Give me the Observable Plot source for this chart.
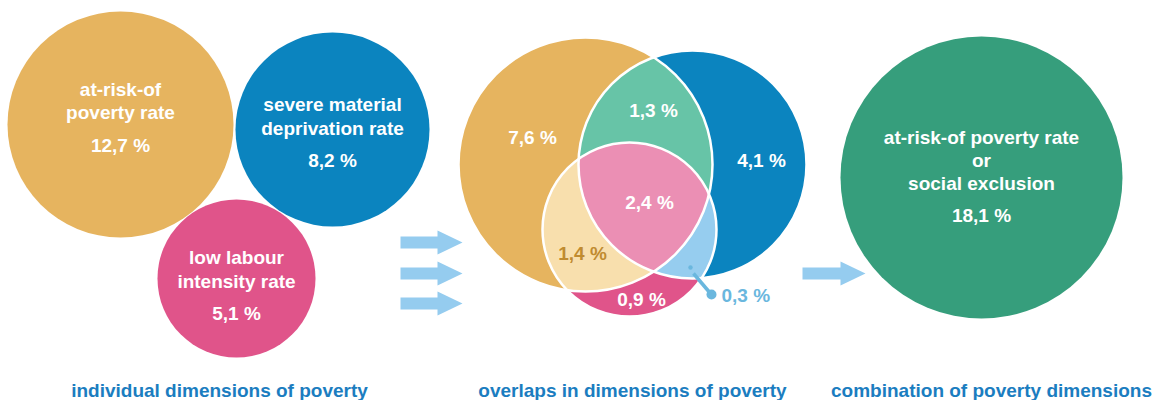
<!DOCTYPE html>
<html>
<head>
<meta charset="utf-8">
<script src="https://cdn.jsdelivr.net/npm/d3@7"></script>
<script src="https://cdn.jsdelivr.net/npm/@observablehq/plot@0.6"></script>
<style>
  html, body { margin: 0; padding: 0; background: #fff; }
</style>
</head>
<body>
<div id="chart"></div>
<script>
// ---------- data ----------
const dimensionNames = ["at-risk-of\npoverty rate", "severe material\ndeprivation rate", "low labour\nintensity rate"];
const dimensionRates = [12.7, 8.2, 5.1];
const overlapRegions = ["AROP only", "AROP & SMD", "SMD only", "all three", "AROP & LWI", "LWI only", "SMD & LWI"];
const overlapRates = [7.6, 1.3, 4.1, 2.4, 1.4, 0.9, 0.3];
const combinedName = "at-risk-of poverty rate\nor\nsocial exclusion";
const combinedRate = 18.1;
const panelTitles = ["individual dimensions of poverty", "overlaps in dimensions of poverty", "combination of poverty dimensions"];

// ---------- layout (chart coordinates) ----------
const leftCircles = [{cx: 120, cy: 124, r: 113}, {cx: 332, cy: 129, r: 97}, {cx: 236, cy: 278, r: 79}];
const leftNameY = [99.5, 115, 268];
const leftValueY = [145, 160, 313];
const venn = {O: {cx: 585, cy: 164, r: 127}, B: {cx: 692, cy: 164, r: 114}, P: {cx: 629, cy: 229, r: 87}};
const overlapLabelPos = [[532, 137], [653, 110], [761, 160], [649, 202], [582, 253], [641, 299], [721, 295]];
const finalCircle = {cx: 981, cy: 177, r: 141};
const arrows = [{x0: 400, x1: 462, y: 242}, {x0: 400, x1: 462, y: 273}, {x0: 400, x1: 462, y: 303}, {x0: 802, x1: 865, y: 273}];
const titleX = [219, 632, 991];
const titleY = 390;

// ---------- styles ----------
const C = {
  orange: "#e6b45f", blue: "#0b84bf", pink: "#e0548a",
  green: "#67c4a7", triple: "#eb8fb4", lightOrange: "#f8dfad", lightBlue: "#96cdef",
  final: "#369e7c", arrow: "#95ccef", title: "#1b7dc0", gold: "#c08b30", callout: "#6ab7de"
};
const FS = 19;
const fmt = v => v.toFixed(1).replace(".", ",") + " %";

// circle-intersection polygon (convex)
function region(circles, n = 720) {
  const pts = [];
  for (const c of circles) {
    for (let i = 0; i < n; i++) {
      const a = 2 * Math.PI * i / n;
      const p = [c.cx + c.r * Math.cos(a), c.cy + c.r * Math.sin(a)];
      if (circles.every(o => o === c || Math.hypot(p[0] - o.cx, p[1] - o.cy) <= o.r + 1e-9)) pts.push(p);
    }
  }
  const mx = d3.mean(pts, p => p[0]), my = d3.mean(pts, p => p[1]);
  pts.sort((a, b) => Math.atan2(a[1] - my, a[0] - mx) - Math.atan2(b[1] - my, b[0] - mx));
  return pts;
}
function arrowPoly(a) {
  const sh = 6, hh = 12, hl = 25;
  const xh = a.x1 - hl;
  return [[a.x0, a.y - sh], [xh, a.y - sh], [xh, a.y - hh], [a.x1, a.y], [xh, a.y + hh], [xh, a.y + sh], [a.x0, a.y + sh]];
}
const poly = (pts, fill) => Plot.line(pts, {x: d => d[0], y: d => d[1], curve: "linear-closed", fill, stroke: "none"});

const {O, B, P} = venn;
const leftData = dimensionNames.map((n, i) => ({...leftCircles[i], name: n, value: dimensionRates[i], ny: leftNameY[i], vy: leftValueY[i], fill: [C.orange, C.blue, C.pink][i]}));
const overlapData = overlapRegions.map((k, i) => ({key: k, value: overlapRates[i], x: overlapLabelPos[i][0], y: overlapLabelPos[i][1], color: ["#fff", "#fff", "#fff", "#fff", C.gold, "#fff", C.callout][i]}));
const inner = overlapData.filter(d => d.key !== "SMD & LWI");
const outer = overlapData.filter(d => d.key === "SMD & LWI");

const txt = {fontSize: FS, fontWeight: "bold"};

const chart = Plot.plot({
  width: 1163, height: 400, margin: 0,
  x: {domain: [0, 1163], range: [0, 1163], axis: null},
  y: {domain: [0, 400], range: [0, 400], axis: null},
  r: {type: "identity"},
  color: {type: "identity"},
  style: {fontFamily: "'Liberation Sans', Arial, sans-serif", background: "#fff"},
  marks: [
    // left panel
    Plot.dot(leftData, {x: "cx", y: "cy", r: "r", fill: "fill", stroke: "none"}),
    Plot.text(leftData, {x: "cx", y: "ny", text: "name", fill: "#fff", lineHeight: 1.22, ...txt}),
    Plot.text(leftData, {x: "cx", y: "vy", text: d => fmt(d.value), fill: "#fff", ...txt}),
    // arrows
    ...arrows.map(a => poly(arrowPoly(a), C.arrow)),
    // venn
    Plot.dot([O], {x: "cx", y: "cy", r: "r", fill: C.orange}),
    Plot.dot([B], {x: "cx", y: "cy", r: "r", fill: C.blue}),
    Plot.dot([P], {x: "cx", y: "cy", r: "r", fill: C.pink}),
    poly(region([O, B]), C.green),
    poly(region([O, P]), C.lightOrange),
    poly(region([B, P]), C.lightBlue),
    poly(region([O, B, P]), C.triple),
    Plot.dot([O, B, P], {x: "cx", y: "cy", r: "r", fill: "none", stroke: "#fff", strokeWidth: 2.5}),
    // callout for 0,3 %
    Plot.dot([{x: 690, y: 267}], {x: "x", y: "y", r: 2.2, fill: C.callout}),
    Plot.link([{x1: 693, y1: 273, x2: 710, y2: 293}], {x1: "x1", y1: "y1", x2: "x2", y2: "y2", stroke: C.callout, strokeWidth: 3.5}),
    Plot.dot([{x: 711, y: 294}], {x: "x", y: "y", r: 5, fill: C.callout}),
    Plot.text(inner, {x: "x", y: "y", text: d => fmt(d.value), fill: "color", ...txt}),
    Plot.text(outer, {x: "x", y: "y", text: d => fmt(d.value), fill: "color", textAnchor: "start", ...txt}),
    // final circle
    Plot.dot([finalCircle], {x: "cx", y: "cy", r: "r", fill: C.final}),
    Plot.text([{name: combinedName}], {x: () => finalCircle.cx, y: () => 159, text: "name", fill: "#fff", lineHeight: 1.21, ...txt}),
    Plot.text([{value: combinedRate}], {x: () => finalCircle.cx, y: () => 215, text: d => fmt(d.value), fill: "#fff", ...txt}),
    // titles
    Plot.text(panelTitles.map((t, i) => ({t, x: titleX[i]})), {x: "x", y: () => titleY, text: "t", fill: C.title, ...txt})
  ]
});
document.getElementById("chart").appendChild(chart);
</script>
</body>
</html>
